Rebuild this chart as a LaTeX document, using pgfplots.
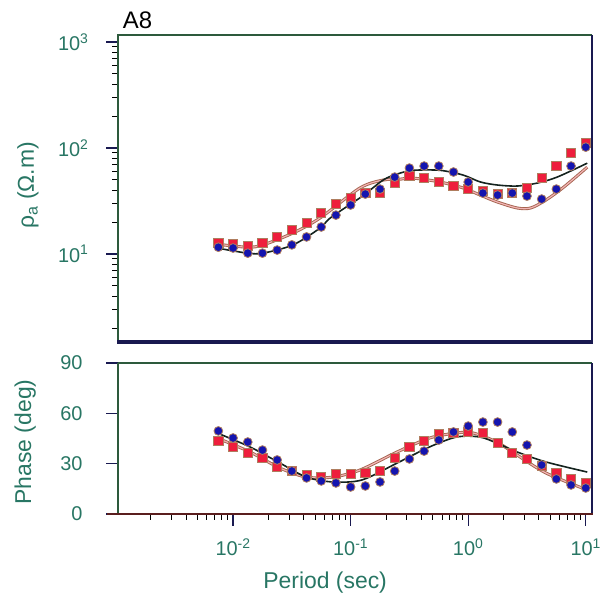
\documentclass[border=0pt]{standalone}
\usepackage{fontspec}
\setmainfont{Liberation Sans}
\usepackage{pgfplots}
\usepackage{pgfplotstable}
\pgfplotsset{compat=1.18}

\definecolor{lab}{RGB}{40,118,100}
\definecolor{bluept}{RGB}{20,20,175}
\definecolor{redpt}{RGB}{238,30,60}
\definecolor{ptedge}{RGB}{175,125,95}
\definecolor{frgreen}{RGB}{45,90,60}
\definecolor{frnavy}{RGB}{25,25,80}
\definecolor{frred}{RGB}{90,30,30}
\definecolor{pinkl}{RGB}{242,180,180}
\definecolor{brownl}{RGB}{165,100,80}
\definecolor{blackl}{RGB}{20,35,30}

% apparent resistivity data: period, red squares, blue circles
\pgfplotstableread{
T rr rb
0.0075 12.7 11.6
0.01 12.4 11.4
0.013335 11.9 10.2
0.017783 12.7 10.2
0.023714 14.5 10.9
0.031623 16.8 12.2
0.04217 19.6 14.5
0.056234 24.4 18.0
0.074989 29.6 23.3
0.1 33.7 29.0
0.13335 38.0 36.8
0.17783 37.6 41.0
0.23714 46.7 53.2
0.31623 54.4 64.7
0.4217 52.1 67.6
0.56234 47.8 67.6
0.74989 43.8 59.4
1.0 41.0 47.8
1.3335 39.3 37.6
1.7783 36.8 36.0
2.3714 37.6 37.6
3.1623 42.0 35.2
4.217 52.0 33.0
5.6234 67.6 41.0
7.4989 89.7 67.6
10.0 111 102
}\rhodata

% phase data
\pgfplotstableread{
T pr pb
0.0075 43.5 49.5
0.01 40 45.3
0.013335 36.4 42.9
0.017783 33.4 38.1
0.023714 28 32.2
0.031623 25.6 25.6
0.04217 23.2 21.5
0.056234 22 19.7
0.074989 23.8 18.5
0.1 23.8 16.1
0.13335 24.4 16.7
0.17783 25.6 19.1
0.23714 33.4 25.6
0.31623 40 32.8
0.4217 43.5 37.5
0.56234 47.7 44.1
0.74989 48.3 48.9
1.0 48.9 52.4
1.3335 48.3 54.8
1.7783 42.3 54.8
2.3714 36.4 48.9
3.1623 32.8 41.1
4.217 28.6 29.2
5.6234 24.4 20.9
7.4989 20.9 17.3
10.0 18.5 15.5
}\phdata

% model curves
\pgfplotstableread{
T v
0.00731 11.4
0.0132 10.2
0.018 10.2
0.0324 12.2
0.055 17.6
0.0675 22.0
0.125 35.0
0.189 49.9
0.249 56.9
0.34 61.6
0.578 61.6
0.906 55.6
1.265 47.9
1.766 44.8
2.61 43.8
3.86 46.7
5.71 53.2
10.3 72
}\rhoblack
\pgfplotstableread{
T v
0.00731 12.4
0.0132 11.6
0.018 12.2
0.0324 15.8
0.055 21.9
0.12 42
0.189 49.9
0.249 50.5
0.34 52
0.578 47.8
0.906 42
1.265 36
1.766 31
2.61 27.2
3.4 27.2
4.6 32.4
6.5 42.8
10.3 66
}\rhopink
\pgfplotstableread{
T v
0.00731 48.3
0.0139 40
0.025 30.4
0.042 22
0.0705 19.1
0.125 20.3
0.249 30.4
0.47 40
0.8 45.9
1.25 45.9
1.75 42.3
2.6 37
4.6 31
10.3 25
}\phblack
\pgfplotstableread{
T v
0.00731 45.3
0.0139 37
0.025 27.4
0.042 22
0.0705 22
0.12 26.2
0.249 37
0.47 45.3
0.8 48.3
1.1 48.3
1.75 42.9
2.6 35.2
4.6 24.4
10.3 14.3
}\phpink

\newcommand{\tl}[2]{\mbox{#1\textsuperscript{#2}}}

\begin{document}
\begin{tikzpicture}
\path[use as bounding box] (0,0) rectangle (600bp,-602bp);

\begin{axis}[at={(118bp,-35bp)}, anchor=north west,
  width=474bp, height=307bp, scale only axis,
  xmode=log, xmin=1.05e-3, xmax=11.3,
  ymode=log, ymin=1.48, ymax=1165,
  axis line style={draw=none},
  tick align=outside, tick pos=left,
  clip mode=individual,
  /pgf/number format/assume math mode=true,
  ticklabel style={font=\fontsize{20}{20}\selectfont, text=lab},
  yticklabel style={xshift=-14bp},
  label style={font=\fontsize{23}{23}\selectfont, text=lab},
  major tick length=12bp, minor tick length=6bp,
  major tick style={frnavy, line width=1.2bp},
  minor tick style={black, line width=1bp},
  ytick={10,100,1000},
  yticklabels={\tl{10}{1},\tl{10}{2},\tl{10}{3}},
  minor ytick={2,3,4,5,6,7,8,9,20,30,40,50,60,70,80,90,200,300,400,500,600,700,800,900},
  xtick=\empty,
  ylabel={ρ\textsubscript{a} (Ω.m)},
  ylabel style={at={(axis description cs:-0.19,0.51)}, anchor=center},
]
\addplot[brownl, line width=3bp, smooth] table[x=T,y=v] {\rhopink};
\addplot[pinkl, line width=1.2bp, smooth] table[x=T,y=v] {\rhopink};
\addplot[blackl, line width=1.6bp, smooth] table[x=T,y=v] {\rhoblack};
\addplot[only marks, mark=square*, mark size=4.6bp, mark options={fill=redpt, draw=ptedge, line width=0.8bp}] table[x=T,y=rr] {\rhodata};
\addplot[only marks, mark=*, mark size=4.4bp, mark options={fill=bluept, draw=ptedge, line width=0.8bp}] table[x=T,y=rb] {\rhodata};
\draw[frgreen, line width=1.8bp] (rel axis cs:0,0) -- (rel axis cs:0,1) -- (rel axis cs:1,1);
\draw[frnavy, line width=1.2bp] (rel axis cs:1,1) -- (rel axis cs:1,0);
\draw[frnavy, line width=4bp] (rel axis cs:-0.002,0) -- (rel axis cs:1.002,0);
\node[font=\fontsize{24}{24}\selectfont, text=black] at (rel axis cs:0.041,1.047) {A8};
\end{axis}

\begin{axis}[at={(118bp,-363bp)}, anchor=north west,
  width=474bp, height=151bp, scale only axis,
  xmode=log, xmin=1.05e-3, xmax=11.3,
  ymin=0, ymax=90, ytick={0,30,60,90},
  axis line style={draw=none},
  tick align=outside, tick pos=left,
  clip mode=individual,
  /pgf/number format/assume math mode=true,
  ticklabel style={font=\fontsize{20}{20}\selectfont, text=lab},
  yticklabel style={xshift=-20bp},
  xticklabel style={yshift=-9bp},
  label style={font=\fontsize{23}{23}\selectfont, text=lab},
  major tick length=12bp, minor tick length=6bp,
  major tick style={frnavy, line width=1.2bp},
  minor tick style={black, line width=1bp},
  xtick={0.01,0.1,1,10},
  xticklabels={\tl{10}{-2},\tl{10}{-1},\tl{10}{0},\tl{10}{1}},
  minor xtick={0.002,0.003,0.004,0.005,0.006,0.007,0.008,0.009,0.02,0.03,0.04,0.05,0.06,0.07,0.08,0.09,0.2,0.3,0.4,0.5,0.6,0.7,0.8,0.9,2,3,4,5,6,7,8,9},
  ylabel={Phase (deg)},
  ylabel style={at={(axis description cs:-0.196,0.477)}, anchor=center},
  xlabel={Period (sec)},
  xlabel style={at={(axis description cs:0.437,-0.457)}, anchor=center},
]
\addplot[brownl, line width=3bp, smooth] table[x=T,y=v] {\phpink};
\addplot[pinkl, line width=1.2bp, smooth] table[x=T,y=v] {\phpink};
\addplot[blackl, line width=1.6bp, smooth] table[x=T,y=v] {\phblack};
\addplot[only marks, mark=square*, mark size=4.6bp, mark options={fill=redpt, draw=ptedge, line width=0.8bp}] table[x=T,y=pr] {\phdata};
\addplot[only marks, mark=*, mark size=4.4bp, mark options={fill=bluept, draw=ptedge, line width=0.8bp}] table[x=T,y=pb] {\phdata};
\draw[frgreen, line width=2.5bp] (rel axis cs:0,1) -- (rel axis cs:1,1);
\draw[frgreen, line width=1.8bp] (rel axis cs:0,0) -- (rel axis cs:0,1);
\draw[frnavy, line width=1.2bp] (rel axis cs:1,1) -- (rel axis cs:1,0);
\draw[frred, line width=2bp] (rel axis cs:-0.023,0) -- (rel axis cs:1.002,0);
\end{axis}
\end{tikzpicture}
\end{document}
